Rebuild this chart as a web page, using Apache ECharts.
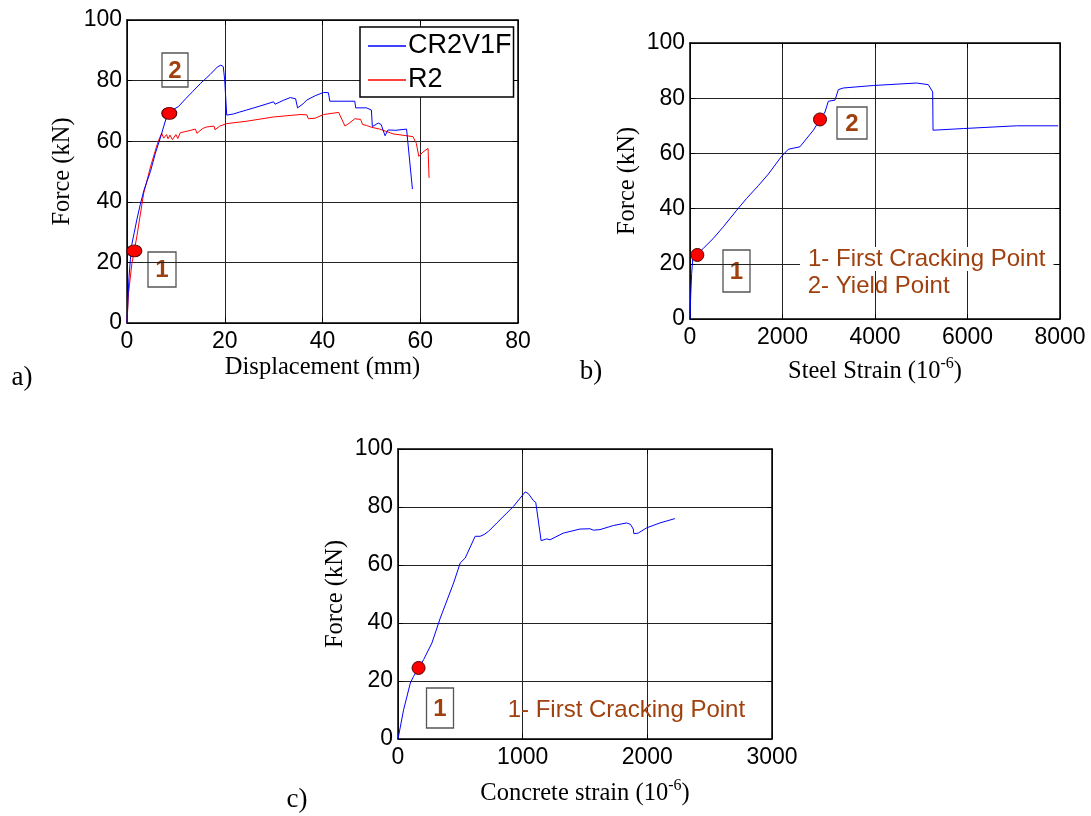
<!DOCTYPE html>
<html>
<head>
<meta charset="utf-8">
<script src="https://cdn.jsdelivr.net/npm/echarts/dist/echarts.min.js"></script>
<style>
html,body{margin:0;padding:0;background:#fff;}
#chart{width:1091px;height:816px;}
</style>
</head>
<body>
<div id="chart"></div>
<script>
// ---------- Data ----------
// Panel a: Force vs Displacement
const cr2v1fDisp  = [0,0.2,0.4,0.7,1.0,1.5,2.0,2.7,3.5,4.8,5.8,6.8,8.0,8.6,9.5,10.5,12,13.5,15,17,18.5,19.2,19.7,20.0,20.4,21.8,23,24.5,27,30,30.3,32,33.4,34.5,34.9,36,36.8,38.5,40.2,41.2,41.5,46.6,46.8,49,50,50.2,51.4,52,52.8,53.4,55,57.2,57.5,58.4];
const cr2v1fForce = [0,8,15,21,26,30,34,39,44,50,56,61,67.5,69,70.5,71.4,74,76.5,79,82,84.5,85.1,84.6,80,68.6,69,69.6,70.3,71.5,73,72.2,73.5,74.4,74,71,72.3,73.6,75,76.1,76,73.2,73.2,71,71,70.3,64.8,66,65.5,61.8,63.7,63.6,64,63.4,44.2];
const r2Disp  = [0,0.3,1.0,2.0,3.4,4.8,6.0,6.5,7.1,7.5,8.1,8.4,8.8,9.3,10.0,10.4,10.9,12.3,14.0,14.3,15.5,16.3,17.8,18.0,19,20.4,24.5,30,35.4,36.8,37.1,38.5,40.2,43.3,44.6,45.5,46.6,47.8,48.2,49,50,51.7,54.5,58.5,59.2,59.7,60.6,61.6,61.8];
const r2Force = [0,9.7,19.6,28.4,42.7,51.5,58,60.4,62.6,61,62.2,60.8,62,60.5,62.2,60.9,62.8,63.3,64,62.6,64.2,64.7,65,63.8,65,65.8,66.6,68,68.8,68.7,67.4,67.6,68.8,69.5,65,66,67.4,67.2,65.5,65.2,64.6,64,62.4,61.5,59.3,55,56.5,57.6,47.9];
const markDispA  = [1.5, 8.65];
const markForceA = [23.8, 69.2];

// Panel b: Force vs Steel strain
const steelStrain = [0,14,36,58,100,159,288,504,720,1009,1225,1477,1694,1982,2126,2378,2667,2811,2919,2991,3135,3207,3315,3964,4901,5153,5247,5255,5297,5910,7063,7960];
const steelForce  = [0,8,16.5,21.4,23,23.6,25.6,29.2,33.4,39.4,43.7,48.3,52.5,59,61.5,62.4,68.4,72.3,75,78.9,79.3,83.1,83.7,84.6,85.5,84.9,82.3,68.4,69,69,70,70];
const markStrainB = [159, 2811];
const markForceB  = [23.2, 72.3];

// Panel c: Force vs Concrete strain
const concStrain = [0,45,99,125,165,206,272,339,446,499,539,619,659,690,726,793,926,1020,1046,1086,1105,1148,1193,1220,1326,1460,1540,1567,1620,1727,1834,1865,1887,1892,1927,1994,2101,2221];
const concForce  = [0,10.1,19.3,21.6,24.5,27.4,33.1,41.7,53.8,60.7,62.4,69.9,69.9,70.5,71.6,74.5,80.2,85.2,84.6,82.2,81.6,68.4,69,68.7,71,72.4,72.5,72,72.2,73.6,74.5,74,72.4,70.8,71,72.8,74.5,76];
const markStrainC = [165];
const markForceC  = [24.5];

// Axis settings
const yTicks = {min:0, max:100, interval:20};
const xTicksA = {min:0, max:80, interval:20};
const xTicksB = {min:0, max:8000, interval:2000};
const xTicksC = {min:0, max:3000, interval:1000};

// ---------- Helpers ----------
const zip = (a, b) => a.map((v, i) => [v, b[i]]);
const SANS = "'Liberation Sans', Arial, sans-serif";
const SERIF = "'Liberation Serif', 'Times New Roman', serif";
const BROWN = '#A0400E';
const TITLE = 24.5;

function xAx(grid, t, name, gap) {
  return [{
    type:'value', gridIndex:grid, position:'bottom', min:t.min, max:t.max, interval:t.interval,
    name:name, nameLocation:'middle', nameGap:gap,
    nameTextStyle:{fontFamily:SERIF, fontSize:TITLE, color:'#000',
      rich:{n:{fontFamily:SERIF, fontSize:TITLE, color:'#000'},
            s:{fontFamily:SERIF, fontSize:16, color:'#000', padding:[0,0,15,0]}}},
    axisLine:{show:true, onZero:false, lineStyle:{color:'#000', width:1.5}},
    axisTick:{show:true, inside:true, length:5, lineStyle:{color:'#000'}},
    axisLabel:{fontFamily:SANS, fontSize:23, color:'#000', margin:7, formatter:v => String(v)},
    splitLine:{show:true, lineStyle:{color:'#222', width:1}}
  },{
    type:'value', gridIndex:grid, position:'top', min:t.min, max:t.max, interval:t.interval,
    axisLine:{show:true, onZero:false, lineStyle:{color:'#000', width:1.5}},
    axisTick:{show:true, inside:true, length:5, lineStyle:{color:'#000'}},
    axisLabel:{show:false}, splitLine:{show:false}
  }];
}
function yAx(grid, t, gap) {
  return [{
    type:'value', gridIndex:grid, position:'left', min:t.min, max:t.max, interval:t.interval,
    name:'Force (kN)', nameLocation:'middle', nameGap:gap, nameRotate:90,
    nameTextStyle:{fontFamily:SERIF, fontSize:TITLE, color:'#000'},
    axisLine:{show:true, onZero:false, lineStyle:{color:'#000', width:1.5}},
    axisTick:{show:true, inside:true, length:5, lineStyle:{color:'#000'}},
    axisLabel:{fontFamily:SANS, fontSize:23, color:'#000', margin:5, formatter:v => String(v)},
    splitLine:{show:true, lineStyle:{color:'#222', width:1}}
  },{
    type:'value', gridIndex:grid, position:'right', min:t.min, max:t.max, interval:t.interval,
    axisLine:{show:true, onZero:false, lineStyle:{color:'#000', width:1.5}},
    axisTick:{show:true, inside:true, length:5, lineStyle:{color:'#000'}},
    axisLabel:{show:false}, splitLine:{show:false}
  }];
}
function box(cx, cy, w, h, label) {
  return {
    type:'group', z:100,
    children:[
      {type:'rect', shape:{x:cx - w/2, y:cy - h/2, width:w, height:h},
       style:{fill:'#fff', stroke:'#555', lineWidth:1.3}},
      {type:'text', style:{x:cx, y:cy + 1, text:label, align:'center', verticalAlign:'middle',
        font:"bold 24px 'Liberation Sans', Arial, sans-serif", fill:BROWN}}
    ]
  };
}
function note(x, y, txt, bg) {
  return {type:'text', z:100, style:{x:x, y:y, text:txt, verticalAlign:'middle',
    font:"24px 'Liberation Sans', Arial, sans-serif", fill:BROWN,
    backgroundColor: bg ? '#fff' : 'transparent', padding: bg ? [0,8,0,8] : 0}};
}
function panelLabel(x, y, txt) {
  return {type:'text', style:{x:x, y:y, text:txt, align:'center', verticalAlign:'middle',
    font:"27px 'Liberation Serif', 'Times New Roman', serif", fill:'#000'}};
}
function dot(xi, yi, data, size) {
  return {type:'scatter', xAxisIndex:xi, yAxisIndex:yi, data:data, symbol:'circle',
    symbolSize:size, z:20, silent:true,
    itemStyle:{color:'#ff0000', borderColor:'#500', borderWidth:1, opacity:1}};
}

const chart = echarts.init(document.getElementById('chart'), null, {renderer:'canvas'});
const option = {
  backgroundColor:'#fff',
  animation:false,
  grid:[
    {left:127, top:20, width:391, height:303, containLabel:false},
    {left:690, top:43, width:370, height:276, containLabel:false},
    {left:398, top:449, width:374, height:290, containLabel:false}
  ],
  xAxis:[
    ...xAx(0, xTicksA, 'Displacement (mm)', 32),
    ...xAx(1, xTicksB, '{n|Steel Strain (10}{s|-6}{n|)}', 37),
    ...xAx(2, xTicksC, '{n|Concrete strain (10}{s|-6}{n|)}', 39)
  ],
  yAxis:[
    ...yAx(0, yTicks, 52),
    ...yAx(1, yTicks, 50),
    ...yAx(2, yTicks, 50)
  ],
  legend:{
    data:[{name:'CR2V1F', icon:'rect'}, {name:'R2', icon:'rect'}],
    orient:'vertical', left:360, top:27,
    itemWidth:38, itemHeight:1.3, itemGap:6,
    padding:[5,2,3,8],
    backgroundColor:'#fff', borderColor:'#000', borderWidth:1.5, borderRadius:0,
    textStyle:{fontFamily:SANS, fontSize:27, color:'#000', lineHeight:28, padding:[0,0,0,-3]},
    selectedMode:false
  },
  series:[
    {name:'CR2V1F', type:'line', xAxisIndex:0, yAxisIndex:0, data:zip(cr2v1fDisp, cr2v1fForce),
     symbol:'none', lineStyle:{color:'#0000ff', width:1}, itemStyle:{color:'#0000ff'}, z:5},
    {name:'R2', type:'line', xAxisIndex:0, yAxisIndex:0, data:zip(r2Disp, r2Force),
     symbol:'none', lineStyle:{color:'#ff0000', width:1}, itemStyle:{color:'#ff0000'}, z:4},
    dot(0, 0, zip(markDispA, markForceA), [15, 12]),
    {name:'steel', type:'line', xAxisIndex:2, yAxisIndex:2, data:zip(steelStrain, steelForce),
     symbol:'none', lineStyle:{color:'#0000ff', width:1}, z:5},
    dot(2, 2, zip(markStrainB, markForceB), 13),
    {name:'concrete', type:'line', xAxisIndex:4, yAxisIndex:4, data:zip(concStrain, concForce),
     symbol:'none', lineStyle:{color:'#0000ff', width:1}, z:5},
    dot(4, 4, zip(markStrainC, markForceC), 13)
  ],
  graphic:[
    box(175, 70, 26, 34, '2'),
    box(162, 269.5, 28, 35, '1'),
    box(736.5, 271, 27, 42, '1'),
    box(852, 123, 30, 32, '2'),
    box(440, 708, 27, 40, '1'),
    note(800, 259, '1- First Cracking Point', true),
    note(807.7, 286, '2- Yield Point', false),
    note(507.7, 710.5, '1- First Cracking Point', false),
    panelLabel(22, 378, 'a)'),
    panelLabel(591, 372, 'b)'),
    panelLabel(297, 800, 'c)')
  ]
};
chart.setOption(option);
</script>
</body>
</html>
